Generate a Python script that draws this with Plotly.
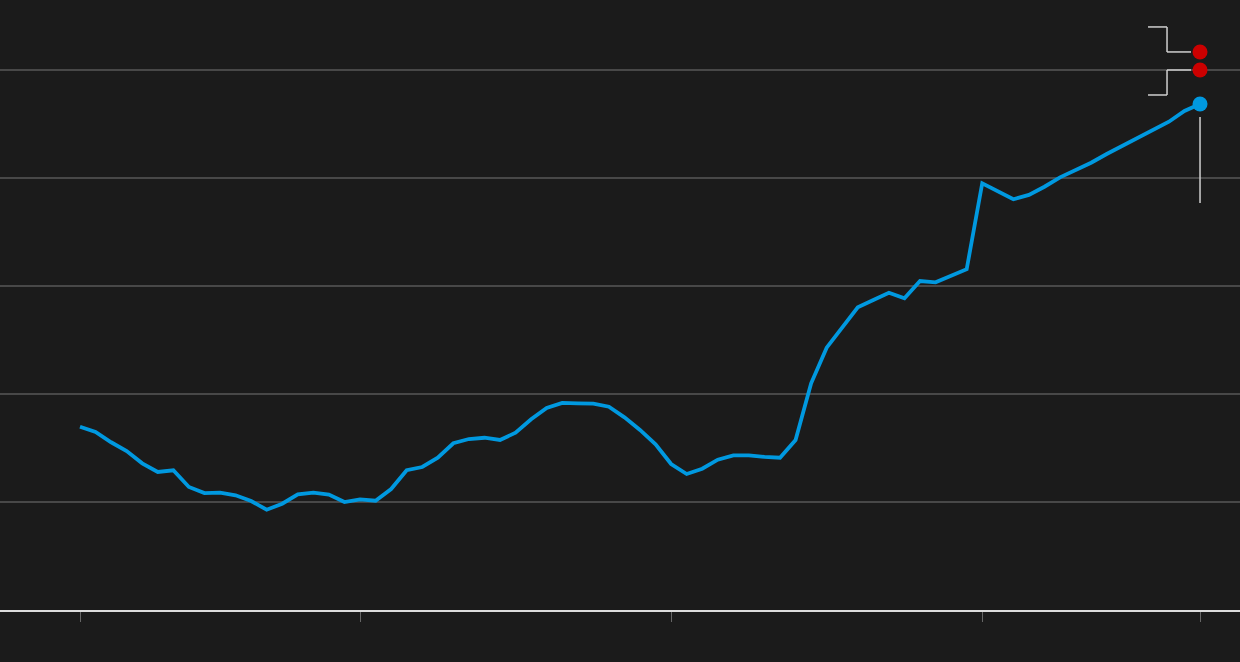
import plotly.graph_objects as go

# Quarterly series (index 0..72), values in gridline units
values = [1.697, 1.648, 1.553, 1.472, 1.358, 1.278, 1.294, 1.139, 1.083, 1.086,
          1.062, 1.009, 0.929, 0.984, 1.071, 1.086, 1.068, 1.000, 1.025, 1.012,
          1.120, 1.294, 1.324, 1.410, 1.544, 1.583, 1.595, 1.574, 1.642, 1.766,
          1.870, 1.917, 1.914, 1.910, 1.882, 1.784, 1.667, 1.534, 1.352, 1.259,
          1.308, 1.392, 1.432, 1.432, 1.417, 1.410, 1.574, 2.099, 2.429, 2.623,
          2.803, 2.870, 2.938, 2.886, 3.046, 3.034, 3.090, 3.155, 3.951, 3.880,
          3.803, 3.843, 3.919, 4.006, 4.077, 4.141, 4.222, 4.296, 4.373, 4.451,
          4.521, 4.620, 4.685]
quarters = list(range(len(values)))
red_values = [5.167, 5.0]
tick_positions = [0, 18, 38, 58, 72]
grid_values = [1, 2, 3, 4, 5]

BG = "#1b1b1b"
BLUE = "#0099e0"
RED = "#cc0000"
LEAD = "#d0d0d0"

fig = go.Figure()
fig.add_trace(go.Scatter(x=quarters, y=values, mode="lines",
                         line=dict(color=BLUE, width=3.8), hoverinfo="skip"))
last_x = quarters[-1]
fig.add_trace(go.Scatter(x=[last_x], y=[values[-1]], mode="markers",
                         marker=dict(color=BLUE, size=15), hoverinfo="skip"))
fig.add_trace(go.Scatter(x=[last_x] * len(red_values), y=red_values, mode="markers",
                         marker=dict(color=RED, size=15), hoverinfo="skip"))

def seg(yanchor, x0, y0, x1, y1):
    fig.add_shape(type="line", xref="x", yref="y", xsizemode="pixel", ysizemode="pixel",
                  xanchor=last_x, yanchor=yanchor, x0=x0, x1=x1, y0=y0, y1=y1,
                  line=dict(color=LEAD, width=1.5), layer="above")

# upper bracket
seg(red_values[0], -52, 25, -33, 25)
seg(red_values[0], -33, 25, -33, 0)
seg(red_values[0], -33, 0, -9, 0)
# lower bracket
seg(red_values[1], -33, 0, -9, 0)
seg(red_values[1], -33, 0, -33, -25)
seg(red_values[1], -52, -25, -33, -25)
# leader under blue dot
seg(values[-1], 0, -13, 0, -99)

fig.update_layout(
    width=1240, height=662,
    paper_bgcolor=BG, plot_bgcolor=BG,
    margin=dict(l=0, r=0, t=0, b=52),
    showlegend=False,
    xaxis=dict(range=[-5.143, 74.57], tickvals=tick_positions, showticklabels=False,
               ticks="outside", ticklen=10, tickwidth=1, tickcolor="#666666",
               showgrid=False, zeroline=False, showline=True, linecolor="#dcdcdc",
               linewidth=2),
    yaxis=dict(range=[0, 5.648], tickvals=grid_values, showticklabels=False,
               showgrid=True, gridcolor="#484848", gridwidth=1.5,
               zeroline=False, showline=False),
)
fig.write_html("out.html", config={"displayModeBar": False},
               post_script="document.body.style.margin='0';"
                           "document.body.style.background='#1b1b1b';"
                           "document.documentElement.style.background='#1b1b1b';")
